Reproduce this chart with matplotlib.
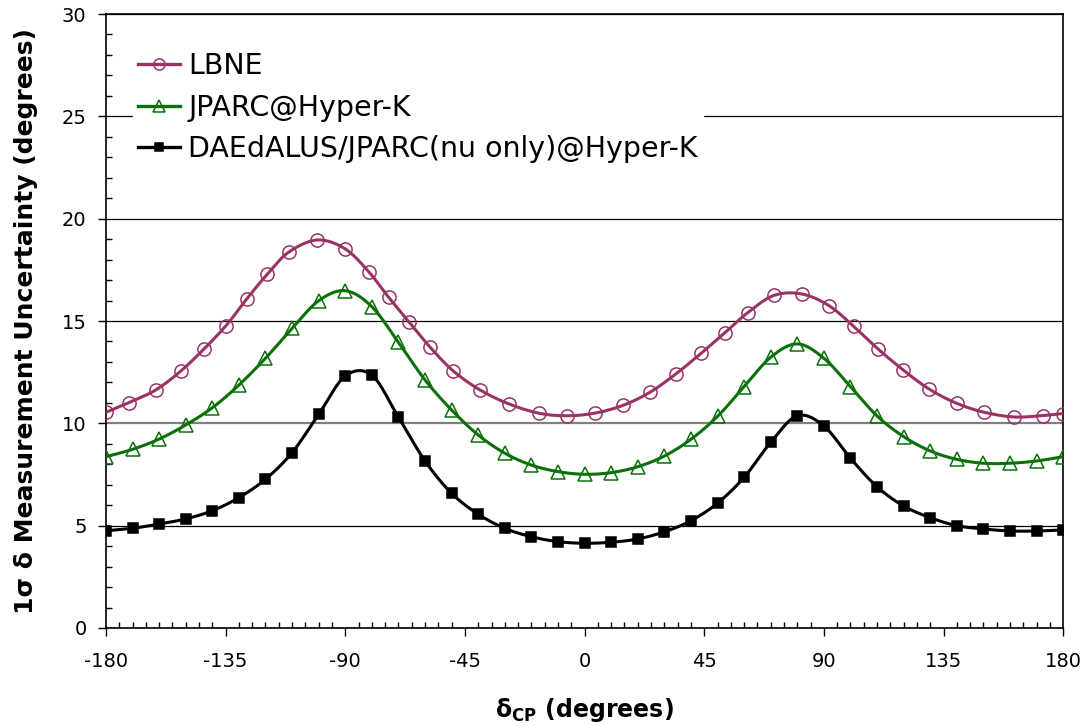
import numpy as np
import matplotlib
matplotlib.use('Agg')
import matplotlib.pyplot as plt
from matplotlib.ticker import MultipleLocator

plt.rcParams['axes.unicode_minus'] = False

# LBNE points (x positions are not evenly spaced in the source)
lbne_x = [-180, -171.4, -161.3, -151.8, -143.0, -134.8, -127.1, -119.3, -111.2, -100.5,
          -90.1, -81.2, -73.7, -66.0, -58.1, -49.4, -39.3, -28.3, -17.0, -6.5,
          3.9, 14.5, 24.6, 34.2, 43.9, 52.7, 61.3, 71.2, 81.7, 91.9,
          101.2, 110.3, 119.6, 129.5, 139.9, 150.3, 161.6, 172.3, 180]
lbne_y = [10.54, 11.01, 11.63, 12.56, 13.65, 14.78, 16.07, 17.29, 18.37, 18.96,
          18.53, 17.41, 16.16, 14.96, 13.72, 12.56, 11.63, 10.94, 10.49, 10.37,
          10.50, 10.88, 11.52, 12.40, 13.43, 14.42, 15.40, 16.25, 16.32, 15.75,
          14.74, 13.64, 12.63, 11.68, 10.98, 10.54, 10.31, 10.38, 10.48]

delta_cp = list(range(-180, 181, 10))
jparc_y = [8.37, 8.73, 9.23, 9.92, 10.76, 11.87, 13.18, 14.64, 15.99, 16.48,
           15.70, 13.95, 12.12, 10.65, 9.43, 8.54, 7.96, 7.64, 7.51, 7.59,
           7.88, 8.40, 9.22, 10.34, 11.79, 13.23, 13.88, 13.18, 11.79, 10.36,
           9.35, 8.65, 8.24, 8.05, 8.05, 8.16, 8.37]
daed_y = [4.75, 4.87, 5.08, 5.33, 5.73, 6.37, 7.27, 8.57, 10.44, 12.31,
          12.35, 10.30, 8.16, 6.58, 5.56, 4.87, 4.46, 4.22, 4.14, 4.19,
          4.35, 4.70, 5.24, 6.10, 7.36, 9.07, 10.37, 9.87, 8.29, 6.90,
          5.96, 5.39, 5.00, 4.84, 4.74, 4.74, 4.79]

labels = ['LBNE', 'JPARC@Hyper-K', 'DAEdALUS/JPARC(nu only)@Hyper-K']
colors = ['#993366', '#0a700a', 'black']


def smooth_line(x, y, n=16):
    # spreadsheet-style smoothed line (cubic bezier through the points)
    p = np.column_stack([x, y]).astype(float)
    out = []
    for i in range(len(p) - 1):
        p0 = p[i - 1] if i > 0 else p[i]
        p1, p2 = p[i], p[i + 1]
        p3 = p[i + 2] if i + 2 < len(p) else p[i + 1]
        c1 = p1 + (p2 - p0) / 6
        c2 = p2 - (p3 - p1) / 6
        t = np.linspace(0, 1, n, endpoint=False)[:, None]
        out.append((1 - t) ** 3 * p1 + 3 * (1 - t) ** 2 * t * c1 + 3 * (1 - t) * t ** 2 * c2 + t ** 3 * p2)
    out.append(p[-1:])
    out = np.vstack(out)
    return out[:, 0], out[:, 1]


fig = plt.figure(figsize=(10.89, 7.26), dpi=100)
ax = fig.add_axes([0.0973, 0.135, 0.879, 0.8457])

series = [(lbne_x, lbne_y, 'o', 9.5, 'none'),
          (delta_cp, jparc_y, '^', 9.5, 'none'),
          (delta_cp, daed_y, 's', 7.5, 'black')]
for (xs, ys, mk, ms, fc), lab, c in zip(series, labels, colors):
    sx, sy = smooth_line(xs, ys)
    ax.plot(sx, sy, color=c, lw=2.2, zorder=3)
    ax.plot(xs, ys, linestyle='none', marker=mk, ms=ms, mfc=fc, mec=c, mew=1.1, zorder=4)
    ax.plot([], [], color=c, lw=2.4, marker=mk, ms=ms * 0.85, mfc=fc, mec=c, mew=1.1, label=lab)

ax.set_xlim(-180, 180)
ax.set_ylim(0, 30)
ax.xaxis.set_major_locator(MultipleLocator(45))
ax.xaxis.set_minor_locator(MultipleLocator(5))
ax.yaxis.set_major_locator(MultipleLocator(5))
ax.yaxis.set_minor_locator(MultipleLocator(1))
ax.tick_params(which='major', direction='out', length=6, width=1, labelsize=14, pad=8)
ax.tick_params(axis='x', which='major', pad=11)
ax.tick_params(which='minor', direction='in', length=4, width=1)

ax.yaxis.grid(True, color='black', lw=0.9)
for v, gl in zip(ax.get_yticks(), ax.get_ygridlines()):
    if v == 10:
        gl.set_color('#808080')
        gl.set_linewidth(1.6)
ax.set_axisbelow(True)
for s in ax.spines.values():
    s.set_linewidth(1.2)

ax.set_xlabel(r'δ$_{\mathbf{CP}}$ (degrees)', fontsize=17, fontweight='bold', labelpad=18)
ax.set_ylabel('1σ δ Measurement Uncertainty (degrees)', fontsize=18, fontweight='bold', labelpad=17)

leg = ax.legend(loc='upper left', bbox_to_anchor=(0.013, 0.97), fontsize=20.5, frameon=True,
                framealpha=1, edgecolor='white', fancybox=False, handlelength=1.45,
                handletextpad=0.3, labelspacing=0.47, borderpad=0.2)
leg.set_zorder(5)

fig.savefig('out.png', dpi=100)
